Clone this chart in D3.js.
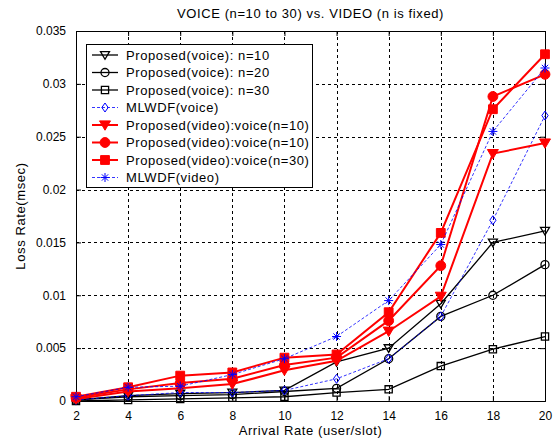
<!DOCTYPE html>
<html>
<head>
<meta charset="utf-8">
<script src="https://cdn.jsdelivr.net/npm/d3@7"></script>
<style>
  body { margin: 0; background: #fff; }
  svg text { font-family: Arial, "Liberation Sans", sans-serif; fill: #000; }
  .label { letter-spacing: 0.6px; }
</style>
</head>
<body>
<div class="chart"></div>
<script>
// arrival rate (user/slot)
var arrival = [2, 4, 6, 8, 10, 12, 14, 16, 18, 20];

// loss rates
var voiceN10 = [0.0001, 0.0005, 0.0007, 0.0008, 0.0010, 0.0037, 0.0050, 0.0092, 0.0150, 0.0161];
var voiceN20 = [0.0001, 0.0004, 0.0005, 0.0006, 0.0009, 0.0012, 0.0040, 0.0080, 0.0100, 0.0129];
var voiceN30 = [0.0000, 0.0001, 0.0002, 0.0003, 0.0004, 0.0008, 0.0011, 0.0033, 0.0049, 0.0061];
var mlwdfVoice = [0.0001, 0.0005, 0.0008, 0.0008, 0.0010, 0.0021, 0.0040, 0.0080, 0.0171, 0.0270];
var videoN10a = [0.0002, 0.0009, 0.0012, 0.0016, 0.0029, 0.0038, 0.0066, 0.0099, 0.0234, 0.0244];
var videoN10b = [0.0003, 0.0011, 0.0017, 0.0021, 0.0034, 0.0041, 0.0076, 0.0128, 0.0288, 0.0309];
var videoN30 = [0.0004, 0.0013, 0.0024, 0.0027, 0.0041, 0.0044, 0.0084, 0.0159, 0.0276, 0.0328];
var mlwdfVideo = [0.0004, 0.0013, 0.0014, 0.0025, 0.0040, 0.0061, 0.0095, 0.0148, 0.0255, 0.0315];

var xTicks = [2, 4, 6, 8, 10, 12, 14, 16, 18, 20];
var yTicks = [0, 0.005, 0.01, 0.015, 0.02, 0.025, 0.03, 0.035];
var yTickLabels = ["0", "0.005", "0.01", "0.015", "0.02", "0.025", "0.03", "0.035"];

var series = [
  {name: "Proposed(voice): n=10", values: voiceN10, color: "#000", width: 1.3, dash: null, marker: "tri", fill: false},
  {name: "Proposed(voice): n=20", values: voiceN20, color: "#000", width: 1.3, dash: null, marker: "circle", fill: false},
  {name: "Proposed(voice): n=30", values: voiceN30, color: "#000", width: 1.3, dash: null, marker: "square", fill: false},
  {name: "MLWDF(voice)", values: mlwdfVoice, color: "#0000ff", width: 0.8, dash: "3,2", marker: "diamond", fill: false},
  {name: "Proposed(video):voice(n=10)", values: videoN10a, color: "#ff0000", width: 2, dash: null, marker: "tri", fill: true},
  {name: "Proposed(video):voice(n=10)", values: videoN10b, color: "#ff0000", width: 2, dash: null, marker: "circle", fill: true},
  {name: "Proposed(video):voice(n=30)", values: videoN30, color: "#ff0000", width: 2, dash: null, marker: "square", fill: true},
  {name: "MLWDF(video)", values: mlwdfVideo, color: "#0000ff", width: 0.8, dash: "3,2", marker: "star", fill: false}
];

var svgWidth = 560;
var svgHeight = 441;
var margin = {top: 31, right: 15, bottom: 40, left: 76};
var width = svgWidth - margin.left - margin.right;
var height = svgHeight - margin.top - margin.bottom;

var svg = d3.select(".chart")
    .append("svg")
    .attr("width", svgWidth)
    .attr("height", svgHeight);

var chartGroup = svg.append("g")
    .attr("transform", `translate(${margin.left}, ${margin.top})`);

var xScale = d3.scaleLinear().domain([2, 20]).range([0, width]);
var yScale = d3.scaleLinear().domain([0, 0.035]).range([height, 0]);

// dashed grid
chartGroup.selectAll(".vgrid")
    .data(xTicks.slice(1, -1))
    .enter()
    .append("line")
    .attr("x1", d => Math.round(xScale(d)) + 0.5)
    .attr("x2", d => Math.round(xScale(d)) + 0.5)
    .attr("y1", 0)
    .attr("y2", height)
    .attr("stroke", "#000")
    .attr("stroke-width", 1)
    .attr("stroke-dasharray", "3,3");

chartGroup.selectAll(".hgrid")
    .data(yTicks.slice(1, -1))
    .enter()
    .append("line")
    .attr("x1", 0)
    .attr("x2", width)
    .attr("y1", d => Math.round(yScale(d)) + 0.5)
    .attr("y2", d => Math.round(yScale(d)) + 0.5)
    .attr("stroke", "#000")
    .attr("stroke-width", 1)
    .attr("stroke-dasharray", "3,3");

// axes (ticks pointing inward, matlab style)
var bottomAxis = d3.axisBottom(xScale).tickValues(xTicks).tickSize(-5).tickPadding(10);
var leftAxis = d3.axisLeft(yScale).tickValues(yTicks).tickSize(-5).tickPadding(10)
    .tickFormat((d, i) => yTickLabels[i]);
var topAxis = d3.axisTop(xScale).tickValues(xTicks).tickSize(-5).tickFormat("");
var rightAxis = d3.axisRight(yScale).tickValues(yTicks).tickSize(-5).tickFormat("");

chartGroup.append("g").attr("transform", `translate(0, ${height})`).call(bottomAxis);
chartGroup.append("g").call(leftAxis);
chartGroup.append("g").call(topAxis);
chartGroup.append("g").attr("transform", `translate(${width}, 0)`).call(rightAxis);

chartGroup.selectAll(".domain").attr("stroke", "#000");
chartGroup.selectAll(".tick line").attr("stroke", "#000");
chartGroup.selectAll(".tick text").attr("font-size", "12px").attr("fill", "#000");

// marker shapes
function markerPath(type, s) {
  if (type == "tri") {
    return `M${-s},${-s * 0.75}L${s},${-s * 0.75}L0,${s * 0.95}Z`;
  } else if (type == "circle") {
    return d3.symbol().type(d3.symbolCircle).size(Math.PI * s * s * 0.8)();
  } else if (type == "square") {
    var h = s * 0.8;
    return `M${-h},${-h}L${h},${-h}L${h},${h}L${-h},${h}Z`;
  } else if (type == "diamond") {
    return `M0,${-s}L${s * 0.7},0L0,${s}L${-s * 0.7},0Z`;
  } else {
    var d = s * 0.7;
    return `M${-s},0L${s},0M0,${-s}L0,${s}M${-d},${-d}L${d},${d}M${-d},${d}L${d},${-d}`;
  }
}

function markerSize(sr) {
  return sr.fill ? 5.5 : 4.5;
}

var line = d3.line()
    .x(d => xScale(d.x))
    .y(d => yScale(d.y));

series.forEach(function(sr) {
  var pts = arrival.map((x, i) => ({x: x, y: sr.values[i]}));
  var g = chartGroup.append("g");
  g.append("path")
      .datum(pts)
      .attr("d", line)
      .attr("fill", "none")
      .attr("stroke", sr.color)
      .attr("stroke-width", sr.width)
      .attr("stroke-dasharray", sr.dash);
  g.selectAll("path.marker")
      .data(pts)
      .enter()
      .append("path")
      .attr("class", "marker")
      .attr("transform", d => `translate(${xScale(d.x)}, ${yScale(d.y)})`)
      .attr("d", markerPath(sr.marker, markerSize(sr)))
      .attr("fill", sr.fill ? sr.color : "none")
      .attr("stroke", sr.color)
      .attr("stroke-width", sr.fill ? 1 : (sr.color == "#000" ? 1.3 : 1));
});

// legend
var legend = svg.append("g").attr("transform", "translate(86, 44)");
legend.append("rect")
    .attr("x", 0.5)
    .attr("y", 0.5)
    .attr("width", 226)
    .attr("height", 143)
    .attr("fill", "#fff")
    .attr("stroke", "#000")
    .attr("stroke-width", 1);

series.forEach(function(sr, i) {
  var cy = 11 + i * 17.5;
  var row = legend.append("g").attr("transform", `translate(0, ${cy})`);
  row.append("line")
      .attr("x1", 6)
      .attr("x2", 32)
      .attr("y1", 0)
      .attr("y2", 0)
      .attr("stroke", sr.color)
      .attr("stroke-width", sr.width)
      .attr("stroke-dasharray", sr.dash);
  row.append("path")
      .attr("transform", "translate(19, 0)")
      .attr("d", markerPath(sr.marker, markerSize(sr)))
      .attr("fill", sr.fill ? sr.color : "none")
      .attr("stroke", sr.color)
      .attr("stroke-width", sr.fill ? 1 : (sr.color == "#000" ? 1.3 : 1));
  row.append("text")
      .attr("class", "label")
      .attr("x", 40)
      .attr("y", 0)
      .attr("dy", "0.35em")
      .attr("font-size", "13px")
      .text(sr.name);
});

// title and axis labels
svg.append("text")
    .attr("class", "label")
    .attr("x", margin.left + width / 2)
    .attr("y", 18)
    .attr("text-anchor", "middle")
    .attr("font-size", "13px")
    .text("VOICE (n=10 to 30) vs. VIDEO (n is fixed)");

svg.append("text")
    .attr("class", "label")
    .attr("x", margin.left + width / 2)
    .attr("y", 435)
    .attr("text-anchor", "middle")
    .attr("font-size", "13px")
    .text("Arrival Rate (user/slot)");

svg.append("text")
    .attr("class", "label")
    .attr("transform", "rotate(-90)")
    .attr("x", -(margin.top + height / 2))
    .attr("y", 25)
    .attr("text-anchor", "middle")
    .attr("font-size", "13px")
    .text("Loss Rate(msec)");
</script>
</body>
</html>
